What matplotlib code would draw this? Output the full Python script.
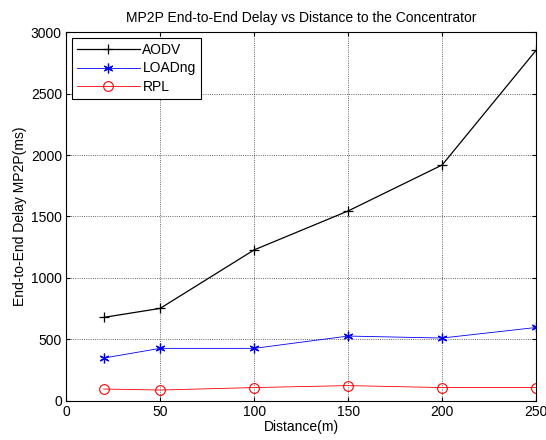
import matplotlib
matplotlib.use('Agg')
import matplotlib.pyplot as plt

plt.rcParams['font.family'] = ['Liberation Sans', 'DejaVu Sans']

distance = [20, 50, 100, 150, 200, 250]
aodv = [679, 752, 1228, 1545, 1919, 2853]
loadng = [348, 427, 427, 527, 511, 597]
rpl = [96, 88, 108, 124, 108, 108]

fig = plt.figure(figsize=(5.46, 4.4), dpi=100)
ax = fig.add_axes([0.121, 0.089, 0.861, 0.838])

ax.plot(distance, aodv, 'k-', marker='+', markersize=7, markeredgewidth=0.9,
        linewidth=0.9, label='AODV')
ax.plot(distance, loadng, '-', color='#0000ff', marker=(6, 2, 0), markersize=7,
        markeredgewidth=0.9, linewidth=0.6, label='LOADng')
ax.plot(distance, rpl, '-', color='#ff0000', marker='o', markersize=7,
        markerfacecolor='none', markeredgewidth=0.8, linewidth=0.6, label='RPL')

ax.set_xlim(0, 250)
ax.set_ylim(0, 3000)
ax.set_xticks([0, 50, 100, 150, 200, 250])
ax.set_yticks([0, 500, 1000, 1500, 2000, 2500, 3000])
ax.grid(True, color='black', linestyle=':', linewidth=0.6, alpha=0.8)
ax.tick_params(direction='in', labelsize=10, length=3, top=True, right=True, pad=3)
for s in ax.spines.values():
    s.set_linewidth(0.8)

ax.set_xlabel('Distance(m)', fontsize=10, labelpad=1)
ax.set_ylabel('End-to-End Delay MP2P(ms)', fontsize=10, labelpad=3)
ax.set_title('MP2P End-to-End Delay vs Distance to the Concentrator', fontsize=10, pad=7)

leg = ax.legend(loc='upper left', fontsize=10, fancybox=False, framealpha=1,
                edgecolor='black', borderaxespad=0.4, handlelength=4.5,
                labelspacing=0.3, handletextpad=0.2)
leg.get_frame().set_linewidth(0.8)

plt.savefig('out.png', dpi=100)
